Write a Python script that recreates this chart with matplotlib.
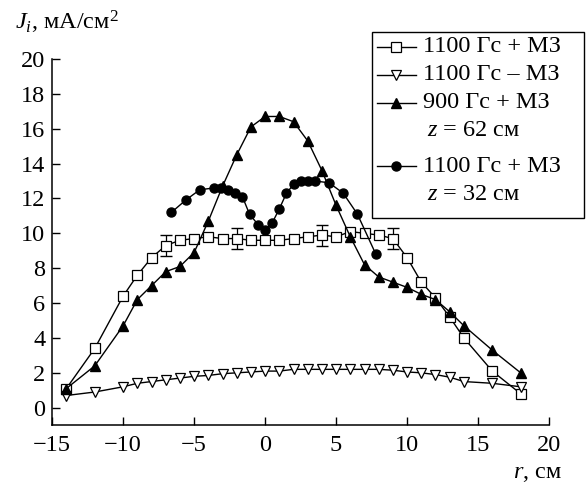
import matplotlib
matplotlib.use("Agg")
import matplotlib.pyplot as plt
from matplotlib.lines import Line2D
from matplotlib.patches import Rectangle

plt.rcParams['font.family'] = ['Liberation Serif', 'DejaVu Serif']
plt.rcParams['mathtext.fontset'] = 'custom'
plt.rcParams['mathtext.rm'] = 'Liberation Serif'
plt.rcParams['mathtext.it'] = 'Liberation Serif:italic'

# 1100 Гс + МЗ (open squares)
r_sq = [-14, -12, -10, -9, -8, -7, -6, -5, -4, -3, -2, -1, 0, 1, 2, 3, 4, 5, 6, 7, 8, 9,
        10, 11, 12, 13, 14, 16, 18]
j_sq = [1.1, 3.4, 6.4, 7.6, 8.6, 9.3, 9.6, 9.7, 9.8, 9.7, 9.7, 9.6, 9.6, 9.6, 9.7, 9.8,
        9.9, 9.8, 10.1, 10.0, 9.9, 9.7, 8.6, 7.2, 6.3, 5.2, 4.0, 2.1, 0.8]
r_err = [-7, -2, 4, 9]
j_err = [9.3, 9.7, 9.9, 9.7]
err = [0.6, 0.6, 0.6, 0.6]

# 1100 Гс - МЗ (open down triangles)
r_tri = [-14, -12, -10, -9, -8, -7, -6, -5, -4, -3, -2, -1, 0, 1, 2, 3, 4, 5, 6, 7, 8, 9,
         10, 11, 12, 13, 14, 16, 18]
j_tri = [0.7, 0.9, 1.2, 1.4, 1.5, 1.6, 1.7, 1.8, 1.85, 1.95, 2.0, 2.05, 2.1, 2.1, 2.2, 2.2,
         2.2, 2.2, 2.2, 2.2, 2.2, 2.15, 2.05, 2.0, 1.9, 1.75, 1.5, 1.4, 1.2]

# 900 Гс + МЗ, z = 62 см (filled triangles)
r_up = [-14, -12, -10, -9, -8, -7, -6, -5, -4, -3, -2, -1, 0, 1, 2, 3, 4, 5, 6, 7, 8, 9,
        10, 11, 12, 13, 14, 16, 18]
j_up = [1.1, 2.4, 4.7, 6.2, 7.0, 7.8, 8.1, 8.9, 10.7, 12.7, 14.5, 16.1, 16.7, 16.7, 16.4,
        15.3, 13.6, 11.6, 9.8, 8.2, 7.5, 7.2, 6.9, 6.5, 6.2, 5.5, 4.7, 3.3, 2.0]

# 1100 Гс + МЗ, z = 32 см (filled circles)
r_ci = [-6.6, -5.6, -4.6, -3.6, -3.1, -2.6, -2.1, -1.6, -1.1, -0.5, 0, 0.5, 1.0, 1.5, 2.0,
        2.5, 3.0, 3.5, 4.5, 5.5, 6.5, 7.8]
j_ci = [11.2, 11.9, 12.5, 12.6, 12.6, 12.5, 12.3, 12.1, 11.1, 10.5, 10.2, 10.6, 11.4, 12.3,
        12.8, 13.0, 13.0, 13.0, 12.9, 12.3, 11.1, 8.8]

x_ticks = [-15, -10, -5, 0, 5, 10, 15, 20]
y_ticks = [0, 2, 4, 6, 8, 10, 12, 14, 16, 18, 20]

W, H = 586, 487
fig = plt.figure(figsize=(W / 100, H / 100), dpi=100)
ax = fig.add_axes([0.089, 0.127, 0.848, 0.752])

fs = 17.5
lw = 1.0
sq_style = dict(color='k', lw=lw, marker='s', ms=6.5, mfc='white', mec='k', mew=0.9)
dn_style = dict(color='k', lw=lw, marker='v', ms=7, mfc='white', mec='k', mew=0.9)
up_style = dict(color='k', lw=lw, marker='^', ms=7, mfc='k', mec='k')
ci_style = dict(color='k', lw=lw, marker='o', ms=6.5, mfc='k', mec='k')

ax.errorbar(r_err, j_err, yerr=err, fmt='none', ecolor='k', elinewidth=0.9, capsize=4, zorder=2)
ax.plot(r_sq, j_sq, zorder=3, **sq_style)
ax.plot(r_tri, j_tri, zorder=3, **dn_style)
ax.plot(r_up, j_up, zorder=4, **up_style)
ax.plot(r_ci, j_ci, zorder=4, **ci_style)

ax.set_xlim(-15, 20)
ax.set_ylim(-1, 20)
ax.set_xticks(x_ticks)
ax.set_xticklabels(['\u221215', '\u221210', '\u22125', '0', '5', '10', '15', '20'])
ax.set_yticks(y_ticks)
ax.tick_params(direction='in', length=6, width=1, labelsize=fs)
ax.tick_params(axis='x', pad=7)
ax.tick_params(axis='y', pad=5)
for s in ['top', 'right']:
    ax.spines[s].set_visible(False)
for s in ['left', 'bottom']:
    ax.spines[s].set_linewidth(1.1)

fig.text(15 / W, 1 - 22 / H, '$J_i$, мА/см$^2$', fontsize=fs, ha='left', va='center')
fig.text(562 / W, 1 - 474 / H, '$r$, см', fontsize=fs, ha='right', va='center')

# legend drawn by hand so the two-line entries keep the marker on the first line
fig.patches.append(Rectangle((372 / W, 1 - 218 / H), (584 - 372) / W, (218 - 32) / H,
                             transform=fig.transFigure, fill=False, ec='k', lw=1.0))
rows = [(47, sq_style, '1100 Гс + МЗ'),
        (75, dn_style, '1100 Гс \u2013 МЗ'),
        (103, up_style, '900 Гс + МЗ'),
        (130, None, '$z$ = 62 см'),
        (166, ci_style, '1100 Гс + МЗ'),
        (195, None, '$z$ = 32 см')]
for y, style, label in rows:
    yf = 1 - y / H
    if style is not None:
        fig.lines.append(Line2D([377 / W, 416 / W], [yf, yf], transform=fig.transFigure,
                                color='k', lw=lw))
        m = {k: v for k, v in style.items() if k in ('marker', 'ms', 'mfc', 'mec', 'mew')}
        fig.lines.append(Line2D([396 / W], [yf], transform=fig.transFigure, lw=0, **m))
        x0 = 423
    else:
        x0 = 427
    fig.text(x0 / W, yf, label, fontsize=fs, ha='left', va='center')

fig.savefig('out.png', dpi=100)
